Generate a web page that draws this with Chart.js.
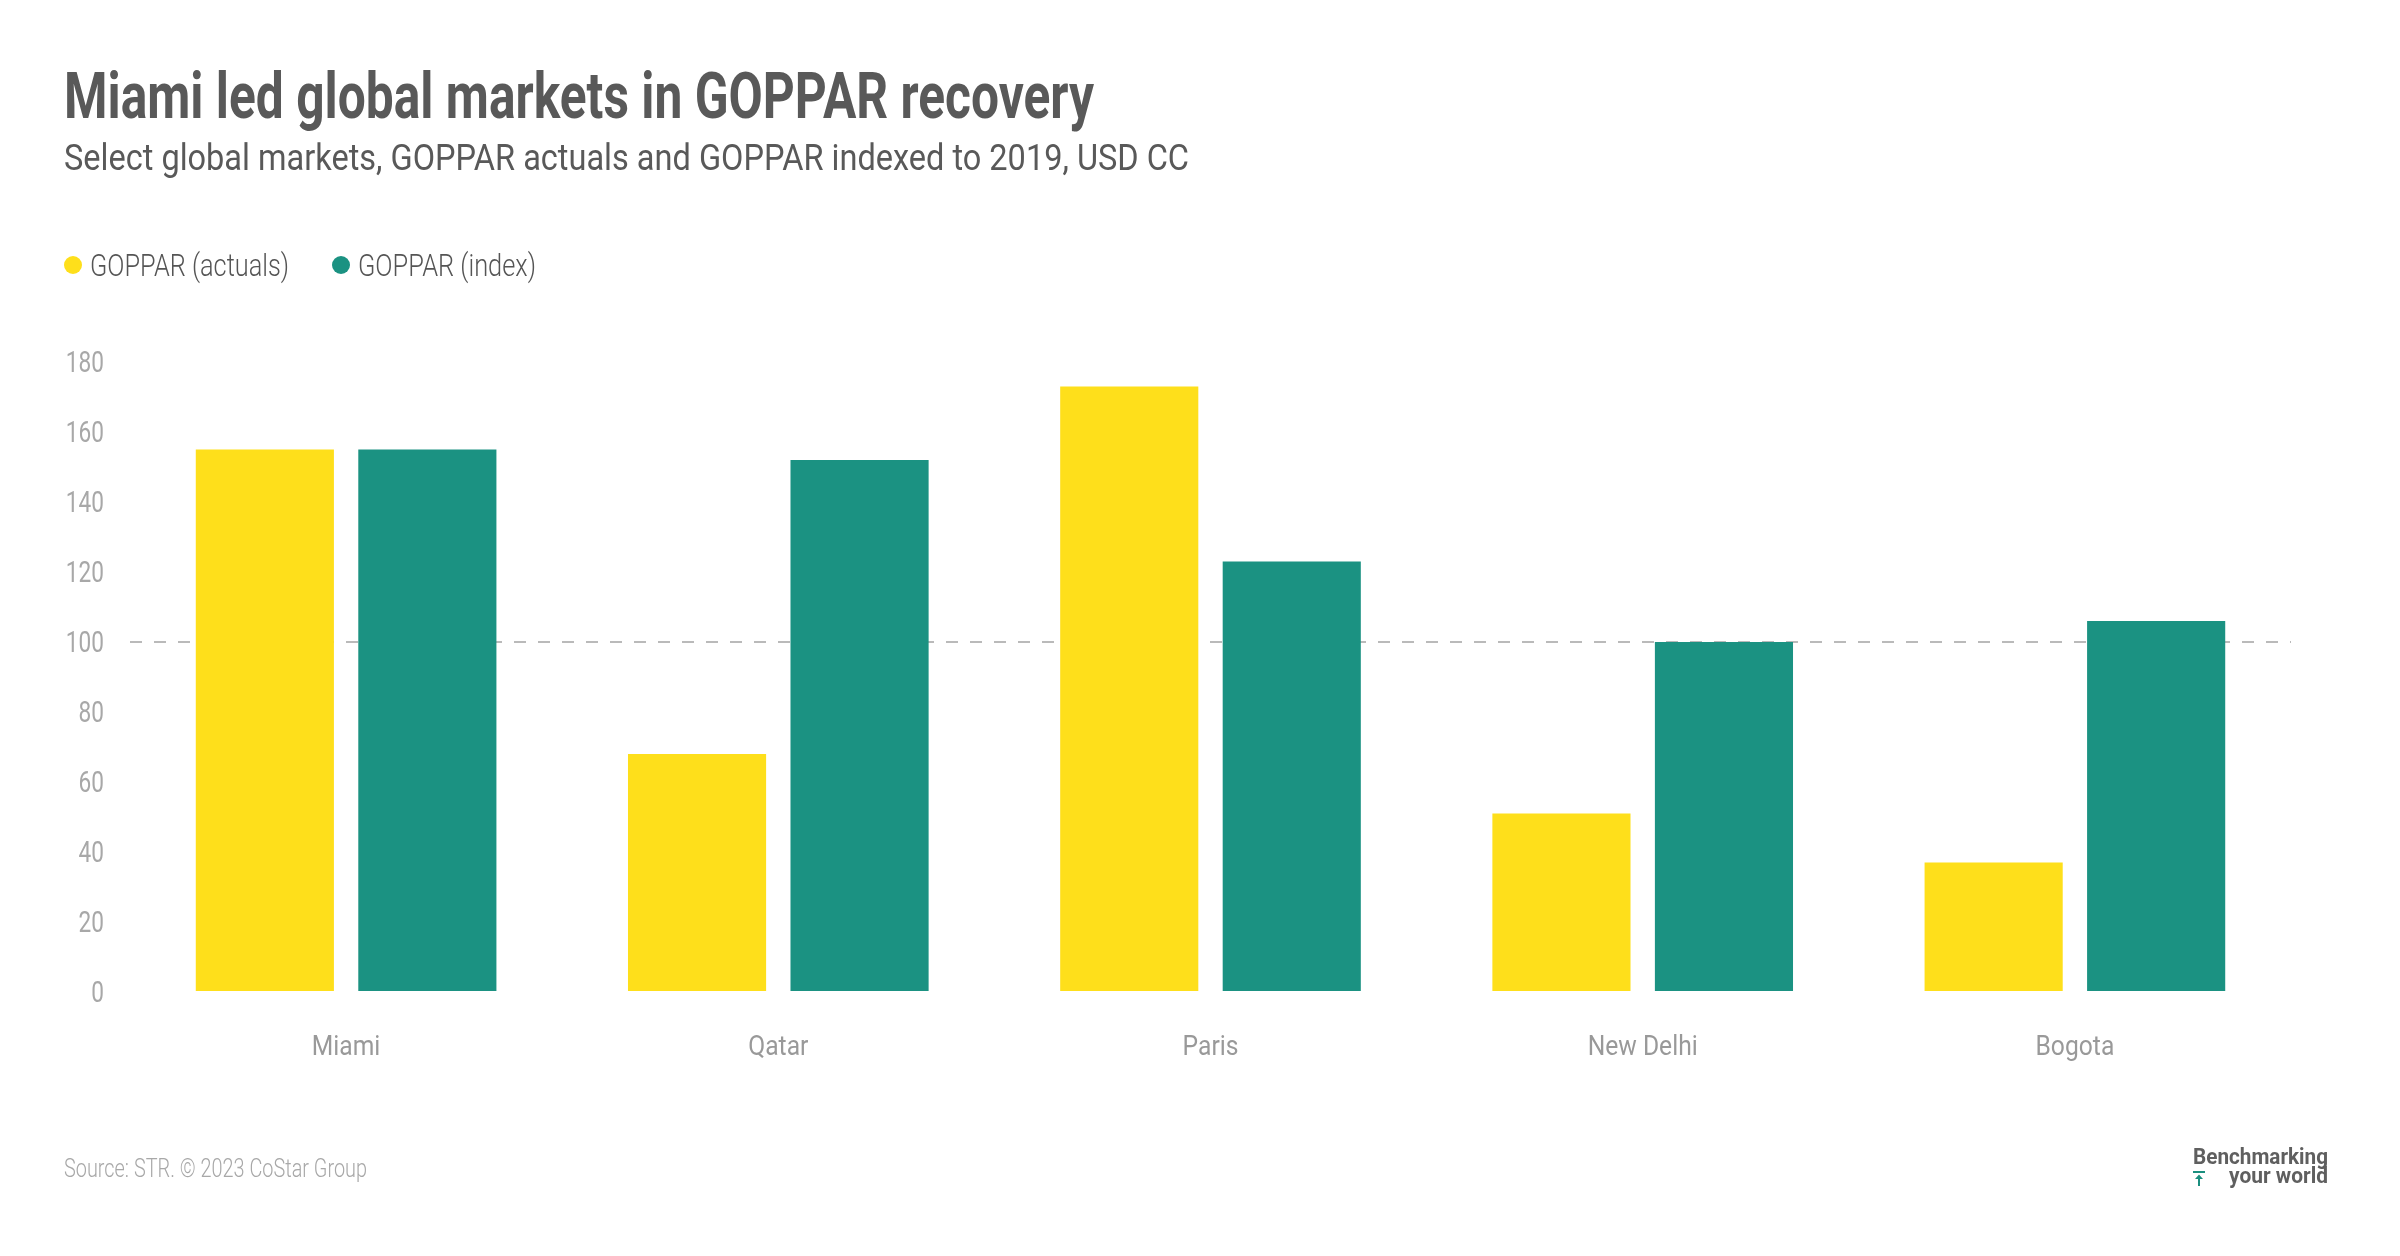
<!DOCTYPE html>
<html>
<head>
<meta charset="utf-8">
<script src="https://cdn.jsdelivr.net/npm/chart.js@4.4.0/dist/chart.umd.min.js"></script>
<style>
  html, body { margin: 0; padding: 0; background: #fff; }
  body { width: 2400px; height: 1256px; position: relative; overflow: hidden; font-family: Roboto, sans-serif; }
  .t { position: absolute; white-space: nowrap; line-height: 1; display: inline-block; transform-origin: 0 0; }
  #title { left: 64px; top: 65px; font-size: 64px; font-weight: 700; color: #595959; }
  #subtitle { left: 64px; top: 140px; font-size: 36px; font-weight: 400; color: #595959; }
  .leg { top: 250px; font-size: 31px; font-weight: 300; color: #555; }
  .dot { position: absolute; width: 18px; height: 18px; border-radius: 50%; top: 256px; }
  #source { left: 64px; top: 1156px; font-size: 25px; font-weight: 300; color: #a8a8a8; }
  .logo { font-size: 22px; font-weight: 700; color: #5f5f5f; }
  #chart { position: absolute; left: 0; top: 0; }
</style>
</head>
<body>
<canvas id="chart" width="2400" height="1256"></canvas>
<div id="title" class="t" data-w="1030">Miami led global markets in GOPPAR recovery</div>
<div id="subtitle" class="t" data-w="1125">Select global markets, GOPPAR actuals and GOPPAR indexed to 2019, USD CC</div>
<div id="legendBox"></div>
<div id="source" class="t" data-w="303">Source: STR. © 2023 CoStar Group</div>
<div id="logo1" class="t logo" data-w="135" data-right="2328" style="top:1146px">Benchmarking</div>
<div id="logo2" class="t logo" data-w="99" data-right="2328" style="top:1165px">your world</div>
<svg style="position:absolute;left:2193px;top:1171px" width="12" height="15" viewBox="0 0 12 15"><rect x="0" y="0" width="12" height="2" fill="#1b8f7f"/><path d="M6 3.5 L10 8 L7 8 L7 15 L5 15 L5 8 L2 8 Z" fill="#1b8f7f"/></svg>
<script>
const categories = ["Miami", "Qatar", "Paris", "New Delhi", "Bogota"];
const goppaActuals = [155, 68, 173, 51, 37];
const goppaIndex = [155, 152, 123, 100, 106];
const seriesLabels = ["GOPPAR (actuals)", "GOPPAR (index)"];
const seriesColors = ["#fedf1b", "#1b9282"];
const yTicks = [0, 20, 40, 60, 80, 100, 120, 140, 160, 180];
const referenceValue = 100;

// legend (HTML, built from series arrays)
const legendBox = document.getElementById('legendBox');
const legendLayout = [{ dot: 64, text: 90, w: 199 }, { dot: 332, text: 358, w: 178 }];
seriesLabels.forEach((lab, i) => {
  const d = document.createElement('div');
  d.className = 'dot';
  d.style.left = legendLayout[i].dot + 'px';
  d.style.background = seriesColors[i];
  const t = document.createElement('div');
  t.className = 't leg';
  t.style.left = legendLayout[i].text + 'px';
  t.dataset.w = legendLayout[i].w;
  t.textContent = lab;
  legendBox.appendChild(d); legendBox.appendChild(t);
});

function fitTexts() {
  document.querySelectorAll('.t[data-w]').forEach(el => {
    el.style.transform = 'none';
    const w = el.getBoundingClientRect().width;
    const k = (+el.dataset.w) / w;
    el.style.transform = 'scaleX(' + k + ')';
    if (el.dataset.right) el.style.left = (+el.dataset.right - (+el.dataset.w)) + 'px';
  });
}
fitTexts();
if (document.fonts && document.fonts.ready) document.fonts.ready.then(fitTexts);

// condensed axis labels drawn at the library's own tick pixels
const condensedLabels = {
  id: 'condensedLabels',
  afterDraw(chart) {
    const ctx = chart.ctx;
    const xs = chart.scales.x, ys = chart.scales.y;
    ctx.save();
    ctx.textBaseline = 'alphabetic';
    // category labels
    ctx.fillStyle = '#999999';
    ctx.font = '400 28px Roboto';
    ctx.textAlign = 'center';
    xs.ticks.forEach((t, i) => {
      ctx.save();
      ctx.translate(xs.getPixelForTick(i), xs.top + 63);
      ctx.scale(0.88, 1);
      ctx.fillText(categories[i], 0, 0);
      ctx.restore();
    });
    // value labels
    ctx.fillStyle = '#a8a8a8';
    ctx.font = '400 29px Roboto';
    ctx.textAlign = 'right';
    ys.ticks.forEach((t, i) => {
      ctx.save();
      ctx.translate(ys.right - 26, ys.getPixelForTick(i) + 10.3);
      ctx.scale(0.78, 1);
      ctx.fillText(String(t.value), 0, 0);
      ctx.restore();
    });
    ctx.restore();
  }
};

new Chart(document.getElementById('chart'), {
  type: 'bar',
  data: {
    labels: categories,
    datasets: [
      { label: seriesLabels[0], data: goppaActuals, backgroundColor: seriesColors[0], borderWidth: 0 },
      { label: seriesLabels[1], data: goppaIndex, backgroundColor: seriesColors[1], borderWidth: 0 }
    ]
  },
  options: {
    responsive: false,
    animation: false,
    devicePixelRatio: 1,
    datasets: { bar: { categoryPercentage: 0.752, barPercentage: 0.85 } },
    layout: { padding: { left: 0, right: 109, top: 362, bottom: 0 } },
    plugins: { legend: { display: false }, tooltip: { enabled: false } },
    scales: {
      x: {
        grid: { display: false, drawTicks: false },
        border: { display: false },
        ticks: { display: false },
        afterFit: (s) => { s.height = 264; }
      },
      y: {
        min: 0, max: 180,
        z: 1,
        afterBuildTicks: (s) => { s.ticks = yTicks.map(v => ({ value: v })); },
        grid: {
          drawTicks: false,
          color: (c) => (c.tick && c.tick.value === referenceValue) ? '#bababa' : 'rgba(0,0,0,0)',
          lineWidth: 2
        },
        border: { display: false, dash: [12, 12] },
        ticks: { display: false },
        afterFit: (s) => { s.width = 130; }
      }
    }
  },
  plugins: [condensedLabels]
});
</script>
</body>
</html>
